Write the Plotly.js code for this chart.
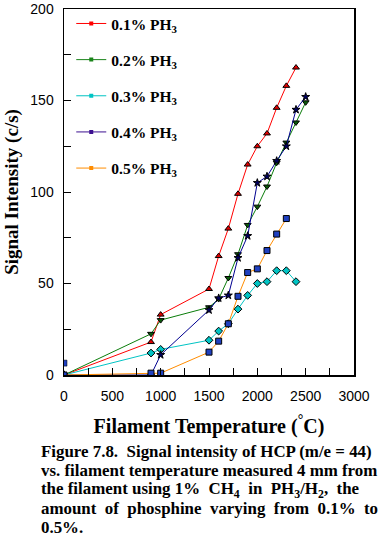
<!DOCTYPE html>
<html><head><meta charset="utf-8">
<script src="https://cdn.plot.ly/plotly-3.0.1.min.js"></script>
<style>html,body{margin:0;padding:0;background:#fff;}#chart{width:382px;height:538px;}</style>
</head><body><div id="chart"></div>
<script>
// Data
const names = ['0.1% PH<sub>3</sub>','0.2% PH<sub>3</sub>','0.3% PH<sub>3</sub>','0.4% PH<sub>3</sub>','0.5% PH<sub>3</sub>'];
const x01 = [0, 900, 1000, 1500, 1600, 1700, 1800, 1900, 2000, 2100, 2200, 2300, 2400];
const y01 = [0, 18, 33, 47, 65, 80, 99, 115, 125, 132, 146, 158, 168];
const x02 = [0, 900, 1000, 1500, 1600, 1700, 1800, 1900, 2000, 2100, 2200, 2300, 2400, 2500];
const y02 = [0, 22.5, 30, 37, 41.5, 53, 66, 82, 92, 103, 116, 127, 138, 149];
const x03 = [0, 900, 1000, 1500, 1600, 1700, 1800, 1900, 2000, 2100, 2200, 2300, 2400];
const y03 = [0, 12, 14, 19, 24, 28, 36, 43.5, 50, 51, 57, 57, 51];
const x04 = [0, 900, 1000, 1500, 1600, 1700, 1800, 1900, 2000, 2100, 2200, 2300, 2400, 2500];
const y04 = [0, 0, 11, 35.5, 42, 43.5, 64, 76, 105, 108.5, 117, 125, 145, 152];
const x05 = [0, 900, 1000, 1500, 1600, 1700, 1800, 1900, 2000, 2100, 2200, 2300];
const y05 = [0, 1, 1, 12.5, 18.5, 28, 43, 56, 58, 68, 77, 85.5];
const xLone = [0];
const yLone = [6.5];
const xTickVals = [0, 500, 1000, 1500, 2000, 2500, 3000];
const yTickVals = [0, 50, 100, 150, 200];

const lineCols = ['#ff0000', '#0a7d0a', '#00c4c4', '#000090', '#ff8c00'];
const legCols = ['#ff0000', '#1a841a', '#00c4c4', '#3c1090', '#ff8c00'];
const markerFill = ['#e00000', '#0a5a0a', '#00c4c4', '#000060', '#2040c0'];
const symbols = ['triangle-up', 'triangle-down', 'diamond', 'star', 'square'];
const xs = [x01, x02, x03, x04, x05];
const ys = [y01, y02, y03, y04, y05];

const traces = [];
for (let i = 0; i < 5; i++) {
  traces.push({
    x: xs[i], y: ys[i], type: 'scatter', mode: 'lines+markers', showlegend: false,
    line: {color: lineCols[i], width: 1},
    marker: {symbol: symbols[i], size: 6, color: markerFill[i], line: {color: '#000', width: 1}}
  });
}
traces.push({x: xLone, y: yLone, type: 'scatter', mode: 'markers', showlegend: false,
  marker: {symbol: 'square', size: 6, color: '#2040c0', line: {color: '#000', width: 0.5}}});
for (let i = 0; i < 5; i++) {
  traces.push({
    x: [null], y: [null], type: 'scatter', mode: 'lines+markers', name: names[i], legendgroup: 'g' + i,
    line: {color: legCols[i], width: 1}, marker: {symbol: 'square', size: 4, color: legCols[i]}
  });
}

const serif = 'Liberation Serif, Times New Roman, serif';
const sans = 'Liberation Sans, Arial, sans-serif';
const capLines = [
  'Figure 7.8.  Signal intensity of HCP (m/e = 44)',
  'vs. filament temperature measured 4 mm from',
  'the filament using 1%  CH<sub>4</sub>  in  PH<sub>3</sub>/H<sub>2</sub>,  the',
  'amount  of  phosphine  varying  from  0.1%  to',
  '0.5%.'
];
const plotH = 538 - 8 - 163;
const annotations = capLines.map((t, i) => ({
  text: t, xref: 'paper', yref: 'paper', x: (39 - 64) / 290, xanchor: 'left', yanchor: 'middle',
  y: -(452 - 375) / plotH - i * 19 / plotH, showarrow: false, align: 'left',
  font: {family: serif, size: 16.9, color: '#000', weight: 'bold'}
}));

const layout = {
  width: 382, height: 538,
  margin: {l: 64, r: 28, t: 8, b: 163},
  paper_bgcolor: '#fff', plot_bgcolor: '#fff',
  showlegend: true,
  legend: {x: 0.025, y: 1.003, xanchor: 'left', yanchor: 'top', bgcolor: 'rgba(0,0,0,0)',
    font: {family: serif, size: 15.5, color: '#000', weight: 'bold'}, tracegroupgap: 13, itemwidth: 30},
  xaxis: {range: [0, 3000], tickvals: xTickVals, ticks: 'inside', ticklen: 7, tickcolor: '#000',
    showgrid: false, zeroline: false, showline: true, linecolor: '#000', linewidth: 1.5, mirror: true,
    minor: {dtick: 250, ticks: 'inside', ticklen: 7, tickcolor: '#000'},
    ticklabelstandoff: 8, ticklabeloverflow: 'allow',
    tickfont: {family: sans, size: 14, color: '#000'},
    title: {text: 'Filament Temperature (<sup>°</sup>C)', standoff: 15,
      font: {family: serif, size: 20, color: '#000', weight: 'bold'}}},
  yaxis: {range: [0, 200], tickvals: yTickVals, ticks: 'inside', ticklen: 7, tickcolor: '#000',
    showgrid: false, zeroline: false, showline: true, linecolor: '#000', linewidth: 1.5, mirror: true,
    minor: {dtick: 25, ticks: 'inside', ticklen: 7, tickcolor: '#000'},
    ticklabelstandoff: 6, ticklabeloverflow: 'allow',
    tickfont: {family: sans, size: 14, color: '#000'},
    title: {text: 'Signal Intensity (c/s)', standoff: 6,
      font: {family: serif, size: 19, color: '#000', weight: 'bold'}}},
  annotations: annotations
};
Plotly.newPlot('chart', traces, layout, {displayModeBar: false, staticPlot: true});
</script></body></html>
